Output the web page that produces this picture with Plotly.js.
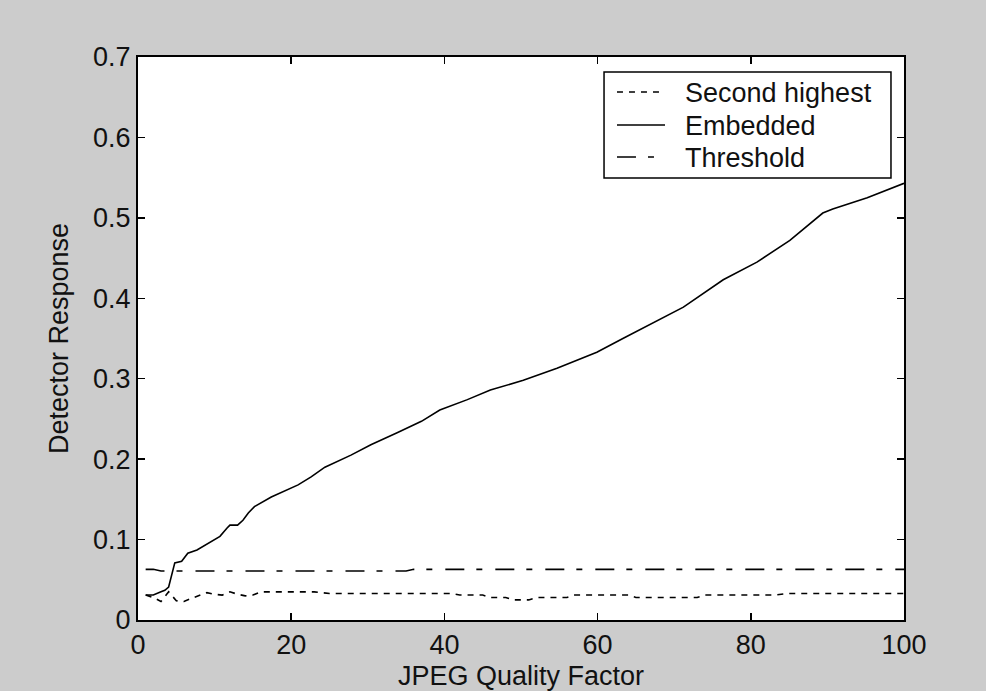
<!DOCTYPE html>
<html>
<head>
<meta charset="utf-8">
<script src="https://cdn.plot.ly/plotly-3.0.1.min.js"></script>
<style>
  html, body { margin: 0; padding: 0; background: #cccccc; }
  #chart { width: 986px; height: 691px; }
</style>
</head>
<body>
<div id="chart"></div>
<script>
// Detector response versus JPEG quality factor
const embeddedQ = [1, 2, 3, 3.5, 4, 4.3, 4.8, 5.7, 6.5, 7.7, 9.4, 10.7, 11.6, 12, 13, 13.7, 14.4, 15.2, 17.4, 19, 20.9, 22.6, 24.4, 27.8, 30.4, 33.9, 37, 39.4, 43, 46, 50.3, 54.7, 59.9, 63.3, 66.8, 71.2, 76.4, 80.8, 85.1, 89.4, 90.7, 95.2, 100];
const embedded  = [0.031, 0.031, 0.035, 0.037, 0.041, 0.052, 0.071, 0.073, 0.083, 0.087, 0.097, 0.104, 0.114, 0.118, 0.118, 0.124, 0.133, 0.141, 0.153, 0.160, 0.168, 0.178, 0.190, 0.205, 0.218, 0.233, 0.247, 0.261, 0.274, 0.286, 0.298, 0.313, 0.333, 0.350, 0.367, 0.389, 0.423, 0.445, 0.472, 0.506, 0.511, 0.525, 0.543];

const secondQ = [1, 2, 3, 4, 5, 6, 7, 8, 9, 10, 11, 12, 13, 14, 15, 16, 20, 23, 25, 30, 35, 41, 42, 45, 46, 48, 49, 51, 52, 56, 57, 64, 65, 73, 74, 83, 85, 100];
const second  = [0.031, 0.028, 0.023, 0.035, 0.024, 0.023, 0.027, 0.031, 0.034, 0.032, 0.031, 0.035, 0.032, 0.030, 0.031, 0.035, 0.035, 0.035, 0.033, 0.033, 0.033, 0.033, 0.031, 0.031, 0.028, 0.028, 0.025, 0.025, 0.028, 0.028, 0.031, 0.031, 0.028, 0.028, 0.031, 0.031, 0.033, 0.033];

const thresholdQ = [1, 2, 3, 35, 36, 100];
const threshold  = [0.063, 0.063, 0.061, 0.061, 0.063, 0.063];

const xTicks = [0, 20, 40, 60, 80, 100];
const yTicks = [0, 0.1, 0.2, 0.3, 0.4, 0.5, 0.6, 0.7];
const yTickText = ['0', '0.1', '0.2', '0.3', '0.4', '0.5', '0.6', '0.7'];

const FONT = '"Liberation Sans", Arial, Helvetica, sans-serif';
const INK = '#111111';

const traces = [
  {
    x: secondQ, y: second, name: 'Second highest', mode: 'lines',
    line: { color: '#000000', width: 1.6, dash: '6px,6px' }
  },
  {
    x: embeddedQ, y: embedded, name: 'Embedded', mode: 'lines',
    line: { color: '#000000', width: 1.6, dash: 'solid' }
  },
  {
    x: thresholdQ, y: threshold, name: 'Threshold', mode: 'lines',
    line: { color: '#000000', width: 1.6, dash: '19px,12px,6px,13px' }
  }
];

// Boxed key in the upper right of the axes, built from the traces' names and line styles
const keyBox = { x0: 0.6084, x1: 0.9830, y0: 0.7851, y1: 0.9734 };
const keyRows = [0.9378, 0.8792, 0.8224];
const keySample = { x0: 0.6253, x1: 0.6880 };
const keyTextX = 0.7115;

const shapes = [{
  type: 'rect', xref: 'paper', yref: 'paper',
  x0: keyBox.x0, x1: keyBox.x1, y0: keyBox.y0, y1: keyBox.y1,
  line: { color: '#000000', width: 1.5 }, fillcolor: '#ffffff', layer: 'above'
}];
const annotations = [];
traces.forEach((t, i) => {
  shapes.push({
    type: 'line', xref: 'paper', yref: 'paper',
    x0: keySample.x0, x1: keySample.x1, y0: keyRows[i], y1: keyRows[i],
    line: { color: t.line.color, width: t.line.width, dash: t.line.dash }, layer: 'above'
  });
  annotations.push({
    xref: 'paper', yref: 'paper', x: keyTextX, y: keyRows[i] - 0.002,
    xanchor: 'left', yanchor: 'middle', showarrow: false, text: t.name,
    font: { family: FONT, size: 27, color: INK }
  });
});

const axisCommon = {
  showline: true, linecolor: '#000000', linewidth: 2,
  mirror: 'allticks', ticks: 'inside', ticklen: 7, tickwidth: 1.5, tickcolor: '#000000',
  showgrid: false, zeroline: false, automargin: false,
  tickfont: { family: FONT, size: 27, color: INK }
};

const layout = {
  width: 986, height: 691,
  paper_bgcolor: '#cccccc', plot_bgcolor: '#ffffff',
  margin: { l: 138, r: 82, t: 57, b: 71 },
  font: { family: FONT, size: 27, color: INK },
  showlegend: false,
  shapes: shapes,
  annotations: annotations,
  xaxis: Object.assign({}, axisCommon, {
    range: [0, 100], tickvals: xTicks, ticktext: xTicks.map(String),
    title: { text: 'JPEG Quality Factor', font: { family: FONT, size: 27, color: INK }, standoff: 7 }
  }),
  yaxis: Object.assign({}, axisCommon, {
    range: [0, 0.7], tickvals: yTicks, ticktext: yTickText,
    title: { text: 'Detector Response', font: { family: FONT, size: 27, color: INK }, standoff: 17 }
  })
};

Plotly.newPlot('chart', traces, layout, { displayModeBar: false, staticPlot: true });
</script>
</body>
</html>
